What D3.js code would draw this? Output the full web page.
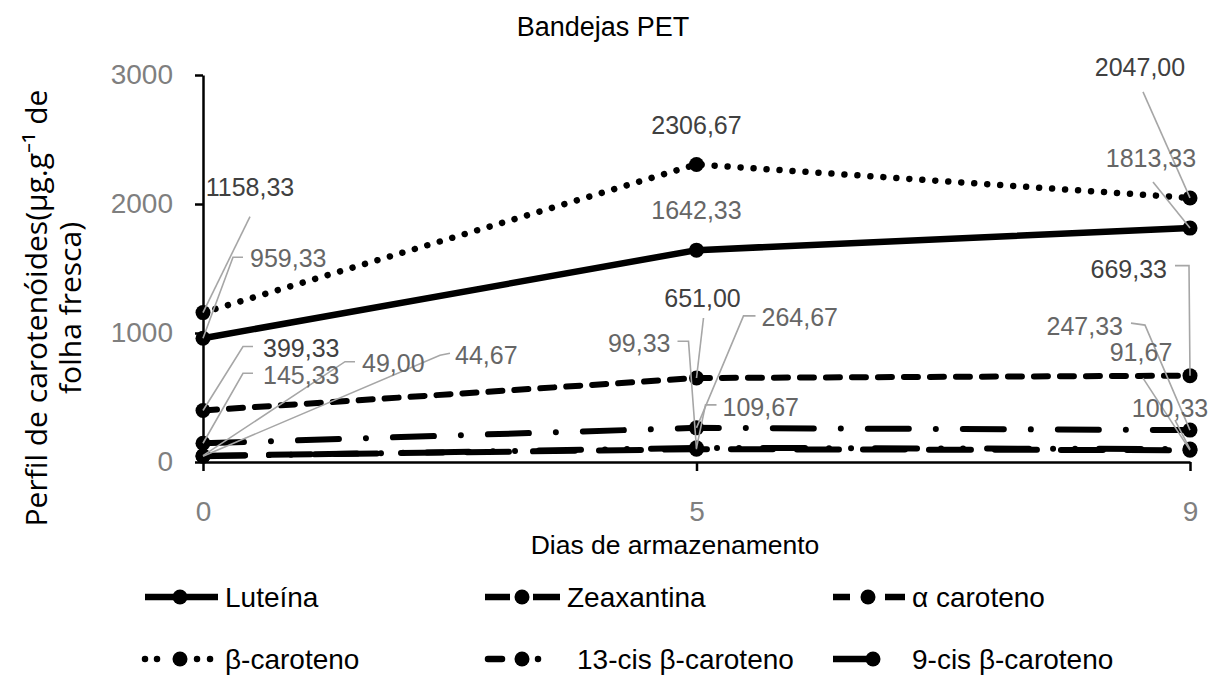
<!DOCTYPE html>
<html><head><meta charset="utf-8">
<script src="https://cdn.jsdelivr.net/npm/d3@7"></script>
<style>body{margin:0;background:#fff}</style></head>
<body><svg id="c" width="1219" height="679"></svg>
<script>
// ---- data ----
const title = "Bandejas PET";
const xTitle = "Dias de armazenamento";
const yTitle = ["Perfil de carotenóides(µg.g⁻¹ de", "folha fresca)"];
const days = ["0", "5", "9"];
const yTicks = [0, 1000, 2000, 3000];
const seriesNames = ["Luteína", "Zeaxantina", "α caroteno", "β-caroteno", "13-cis β-caroteno", "9-cis β-caroteno"];
const luteina = [959.33, 1642.33, 1813.33];
const zeaxantina = [49.00, 99.33, 91.67];
const alfaCaroteno = [399.33, 651.00, 669.33];
const betaCaroteno = [1158.33, 2306.67, 2047.00];
const cis13 = [145.33, 264.67, 247.33];
const cis9 = [44.67, 109.67, 100.33];
const seriesValues = [luteina, zeaxantina, alfaCaroteno, betaCaroteno, cis13, cis9];

// ---- styles / layout ----
const FONT = "'Liberation Sans', Arial, sans-serif";
const lineStyles = [
  {w: 6.5, dash: null, cap: "round"},
  {w: 6, dash: "42 24", cap: "round"},
  {w: 6, dash: "14 12", cap: "round"},
  {w: 6.5, dash: "0.01 13", cap: "round"},
  {w: 6, dash: "41 27 0.01 27", cap: "round"},
  {w: 6, dash: "42 24 0.01 22 0.01 24", cap: "round"}
];
const labelColors = ["#666", "#666", "#404040", "#404040", "#666", "#666"];
// label offsets relative to the point: text position, anchor, leader polyline start
const labelLayout = [
  [ {dx:47, dy:-80, a:"start", ld:[[40,-81],[30,-81]]}, {dx:0, dy:-40, a:"middle", ld:null}, {dx:-39, dy:-70, a:"middle", ld:[[-37,-46]]} ],
  [ {dx:159, dy:-92, a:"start", ld:[[152,-94],[142,-94]]}, {dx:-26, dy:-106, a:"end", ld:[[-19,-108],[-8,-108]]}, {dx:-49, dy:-98, a:"middle", ld:[[-47,-72]]} ],
  [ {dx:60, dy:-62, a:"start", ld:[[50,-64],[40,-64]]}, {dx:6, dy:-80, a:"middle", ld:[[7,-60]]}, {dx:-23, dy:-106, a:"end", ld:[[-15,-110],[-1,-110]]} ],
  [ {dx:47, dy:-125, a:"middle", ld:[[47,-96]]}, {dx:0, dy:-39, a:"middle", ld:null}, {dx:-50, dy:-131, a:"middle", ld:[[-47,-106]]} ],
  [ {dx:60, dy:-68, a:"start", ld:[[50,-70],[40,-70]]}, {dx:65, dy:-111, a:"start", ld:[[59,-112],[47,-112]]}, {dx:-67, dy:-104, a:"end", ld:[[-59,-107],[-45,-105]]} ],
  [ {dx:252, dy:-101, a:"start", ld:[[247,-103],[237,-101]]}, {dx:26, dy:-41, a:"start", ld:[[20,-43],[9,-43]]}, {dx:-20, dy:-41, a:"middle", ld:[[-15,-29]]} ]
];
const legendLayout = [
  {row:0, x0:145, x1:218, mx:180, dash:null, cap:"butt", tx:225},
  {row:0, x0:485, x1:560, mx:522, dash:"25 23 27", cap:"butt", tx:567},
  {row:0, x0:833, x1:905, mx:868, dash:"17 35 20", cap:"butt", tx:912},
  {row:1, x0:145, x1:211, mx:180, dash:"0.01 12 0.01 40 0.01 13", cap:"round", tx:225},
  {row:1, x0:488, x1:541, mx:522, dash:"14 36 0.01 100", cap:"round", tx:577},
  {row:1, x0:833, x1:872, mx:873, dash:null, cap:"butt", tx:912}
];
const legendRows = [597, 659];

const svg = d3.select("#c");
const x = d3.scalePoint().domain(days).range([203, 1190]);
const y = d3.scaleLinear().domain([0, 3000]).range([462, 75]);
const fmt = v => d3.format(".2f")(v).replace(".", ",");

// title
svg.append("text").attr("x", 603).attr("y", 27).attr("dy", "0.35em")
  .attr("text-anchor", "middle").attr("font-family", FONT).attr("font-size", 27)
  .attr("fill", "#000").text(title);

// axes
const yAxis = svg.append("g").attr("transform", "translate(203,0)")
  .call(d3.axisLeft(y).tickValues(yTicks).tickSize(8).tickSizeOuter(0).tickPadding(22).tickFormat(d3.format("d")));
const xAxis = svg.append("g").attr("transform", "translate(0,462)")
  .call(d3.axisBottom(x).tickSize(9).tickSizeOuter(0).tickPadding(30));
[yAxis, xAxis].forEach(a => {
  a.select(".domain").attr("stroke", "#000").attr("stroke-width", 2.5);
  a.selectAll(".tick line").attr("stroke", "#000").attr("stroke-width", 2.5);
  a.selectAll(".tick text").attr("font-family", FONT).attr("font-size", 28).attr("fill", "#7f7f7f");
});

// axis titles
svg.append("text").attr("x", 675).attr("y", 545).attr("dy", "0.35em")
  .attr("text-anchor", "middle").attr("font-family", FONT).attr("font-size", 26.5)
  .attr("fill", "#000").text(xTitle);
yTitle.forEach((t, i) => {
  svg.append("text").attr("transform", `translate(${36 + i * 34},308) rotate(-90)`)
    .attr("dy", "0.35em").attr("text-anchor", "middle")
    .attr("font-family", "'Open Sans', sans-serif").attr("font-size", 30).attr("fill", "#000").text(t);
});

// lines
const line = d3.line().x((d, i) => x(days[i])).y(d => y(d));
const plot = svg.append("g");
seriesValues.forEach((vals, s) => {
  const st = lineStyles[s];
  plot.append("path").attr("d", line(vals)).attr("fill", "none")
    .attr("stroke", "#000").attr("stroke-width", st.w)
    .attr("stroke-linecap", st.cap).attr("stroke-linejoin", "round")
    .attr("stroke-dasharray", st.dash);
});
seriesValues.forEach((vals, s) => {
  plot.selectAll(null).data(vals).enter().append("circle")
    .attr("cx", (d, i) => x(days[i])).attr("cy", d => y(d)).attr("r", 7.5).attr("fill", "#000");
});

// leader lines and labels
const lab = svg.append("g");
seriesValues.forEach((vals, s) => {
  vals.forEach((v, i) => {
    const px = x(days[i]), py = y(v), L = labelLayout[s][i];
    if (L.ld) {
      const pts = L.ld.map(p => [px + p[0], py + p[1]]).concat([[px, py]]);
      lab.append("path").attr("d", d3.line()(pts)).attr("fill", "none")
        .attr("stroke", "#a6a6a6").attr("stroke-width", 1.6);
    }
  });
});
seriesValues.forEach((vals, s) => {
  vals.forEach((v, i) => {
    const px = x(days[i]), py = y(v), L = labelLayout[s][i];
    lab.append("text").attr("x", px + L.dx).attr("y", py + L.dy).attr("dy", "0.35em")
      .attr("text-anchor", L.a).attr("font-family", FONT).attr("font-size", 25)
      .attr("fill", labelColors[s]).text(fmt(v));
  });
});

// legend
const leg = svg.append("g");
seriesNames.forEach((name, s) => {
  const L = legendLayout[s], ly = legendRows[L.row];
  leg.append("line").attr("x1", L.x0).attr("x2", L.x1).attr("y1", ly).attr("y2", ly)
    .attr("stroke", "#000").attr("stroke-width", 6.5).attr("stroke-linecap", L.cap)
    .attr("stroke-dasharray", L.dash);
  leg.append("circle").attr("cx", L.mx).attr("cy", ly).attr("r", 7.5).attr("fill", "#000");
  leg.append("text").attr("x", L.tx).attr("y", ly).attr("dy", "0.35em")
    .attr("font-family", FONT).attr("font-size", 28).attr("fill", "#000").text(name);
});
</script></body></html>
